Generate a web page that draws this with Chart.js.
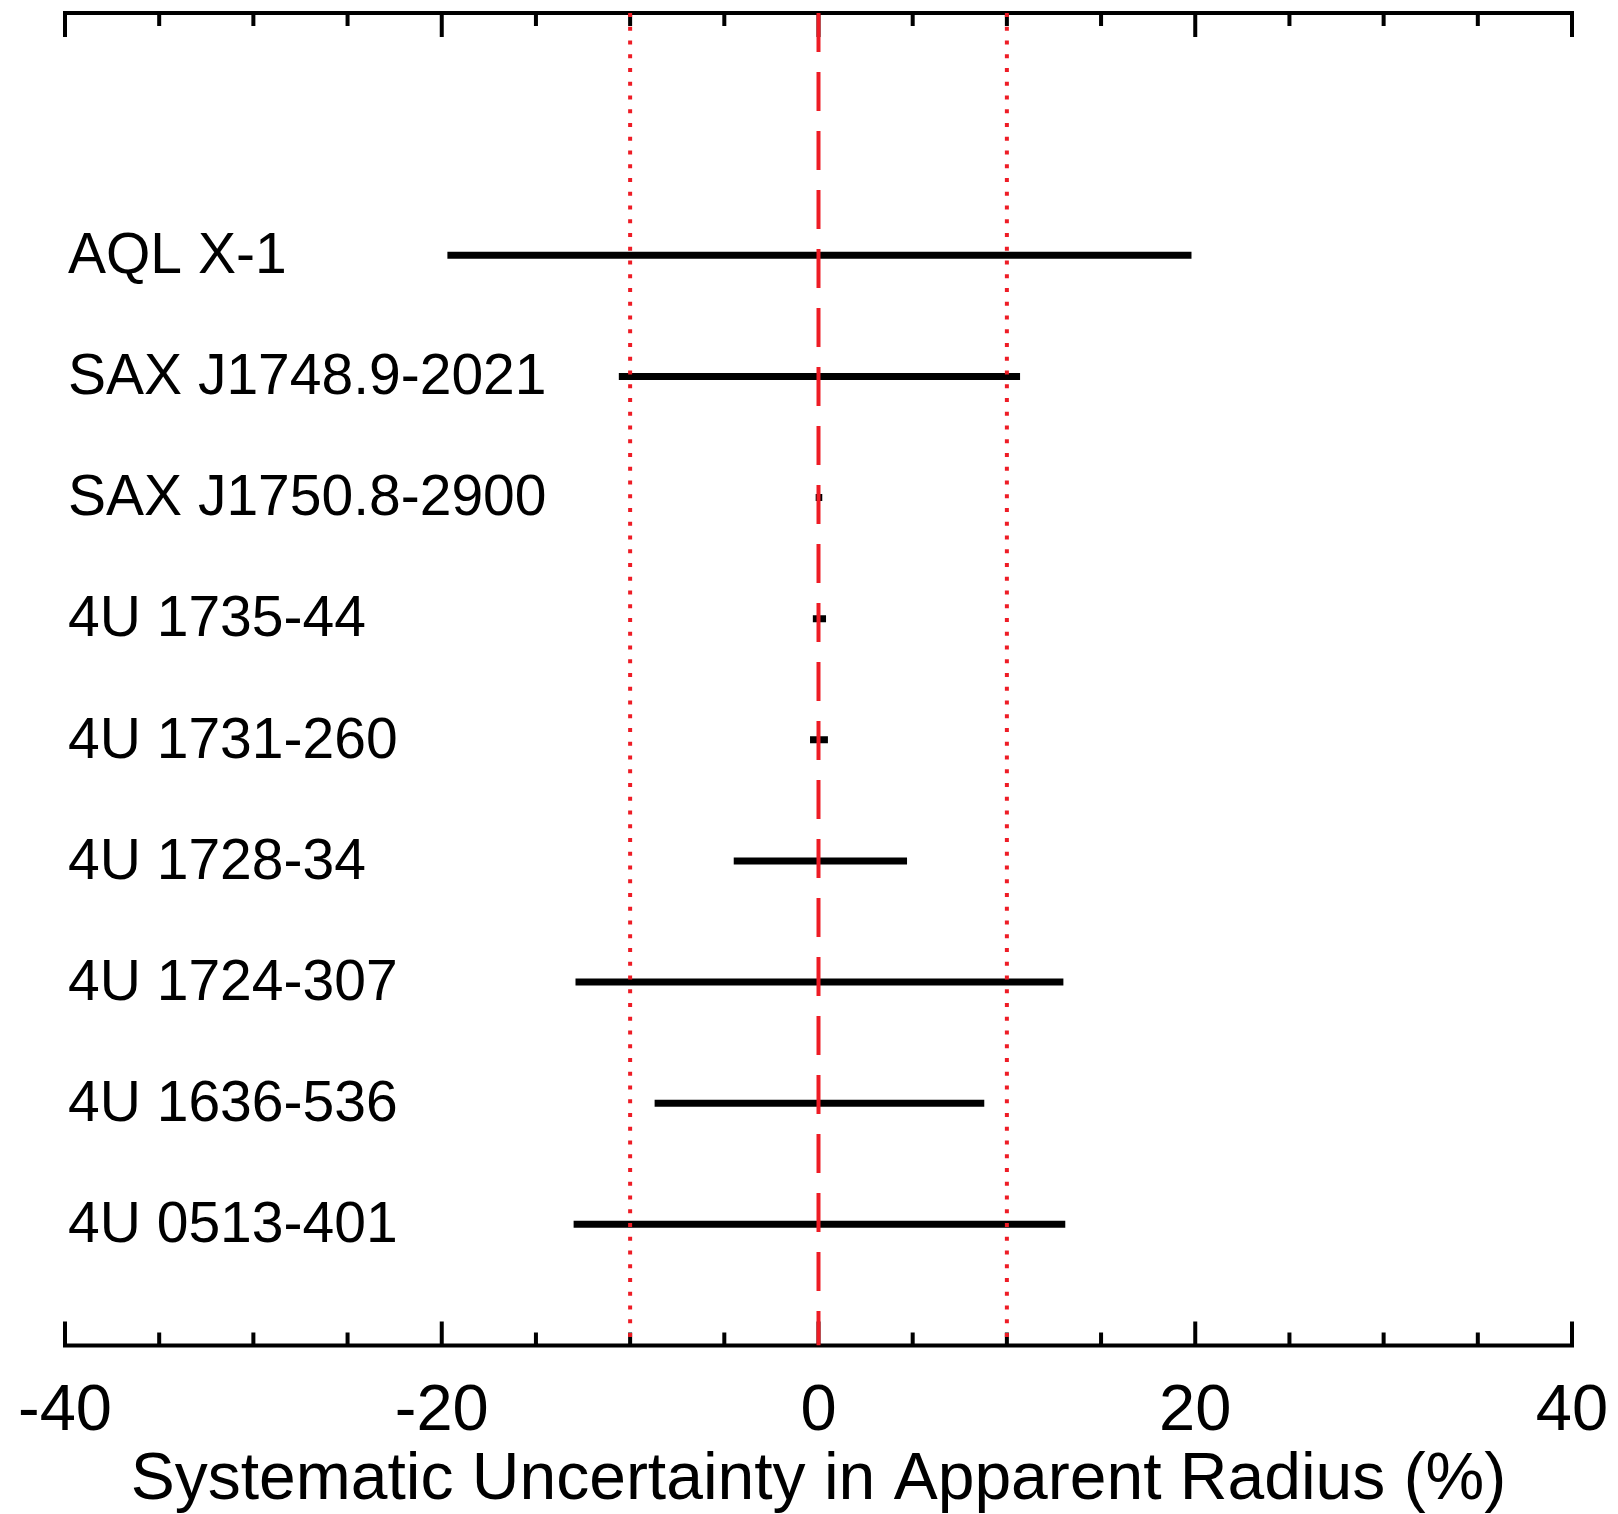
<!DOCTYPE html>
<html>
<head>
<meta charset="utf-8">
<script src="https://cdn.jsdelivr.net/npm/chart.js@4.4.1/dist/chart.umd.min.js"></script>
<style>
  html, body { margin: 0; padding: 0; background: #fff; }
  #wrap { width: 1618px; height: 1514px; }
</style>
</head>
<body>
<div id="wrap"><canvas id="chart" width="1618" height="1514"></canvas></div>
<script>
// sources, listed top to bottom as in the figure
const sources = [
    'AQL X-1', 'SAX J1748.9-2021', 'SAX J1750.8-2900', '4U 1735-44', '4U 1731-260',
    '4U 1728-34', '4U 1724-307', '4U 1636-536', '4U 0513-401'
];
// lower / upper end of each uncertainty range (%)
const lowerEnd = [-19.7, -10.6, -0.15, -0.3, -0.45, -4.5, -12.9, -8.7, -13.0];
const upperEnd = [19.8, 10.7, 0.2, 0.4, 0.5, 4.7, 13.0, 8.8, 13.1];

const xTicks = [-40, -20, 0, 20, 40];
const minorStep = 5;
const refLines = [-10, 0, 10];

const RED = '#ee1c25';
const FONT = '"Liberation Sans", Arial, sans-serif';
const yMax = sources.length + 2;

// box (top & bottom only) with inward ticks, and source names inside the plot
const framePlugin = {
    id: 'framePlugin',
    beforeDatasetsDraw(chart) {
        const { ctx, chartArea: a, scales: { x } } = chart;
        ctx.save();
        ctx.strokeStyle = '#000';
        ctx.lineWidth = 4;
        ctx.lineCap = 'butt';
        ctx.beginPath();
        ctx.moveTo(a.left - 2, a.top);
        ctx.lineTo(a.right + 2, a.top);
        ctx.moveTo(a.left - 2, a.bottom);
        ctx.lineTo(a.right + 2, a.bottom);
        for (let v = x.min; v <= x.max; v += minorStep) {
            const px = x.getPixelForValue(v);
            const len = xTicks.includes(v) ? 24 : 13;
            ctx.moveTo(px, a.top);
            ctx.lineTo(px, a.top + len);
            ctx.moveTo(px, a.bottom);
            ctx.lineTo(px, a.bottom - len);
        }
        ctx.stroke();
        ctx.restore();
    },
    afterDatasetsDraw(chart) {
        const { ctx, chartArea: a, scales: { y } } = chart;
        ctx.save();
        ctx.fillStyle = '#000';
        ctx.font = '57px ' + FONT;
        ctx.textAlign = 'left';
        ctx.textBaseline = 'middle';
        sources.forEach((name, i) => {
            ctx.fillText(name, a.left + 3, y.getPixelForValue(sources.length - i) + 2);
        });
        ctx.restore();
    }
};

const datasets = [];
refLines.forEach(v => {
    datasets.push({
        data: [{ x: v, y: yMax }, { x: v, y: 0 }],
        borderColor: RED,
        borderWidth: 4,
        borderDash: v === 0 ? [39, 20] : [4, 9.75],
        pointRadius: 0,
        order: 0
    });
});
sources.forEach((name, i) => {
    datasets.push({
        label: name,
        data: [{ x: lowerEnd[i], y: sources.length - i }, { x: upperEnd[i], y: sources.length - i }],
        borderColor: '#000',
        borderWidth: 7,
        borderCapStyle: 'butt',
        pointRadius: 0,
        order: 1
    });
});

new Chart(document.getElementById('chart'), {
    type: 'line',
    data: { datasets: datasets },
    options: {
        responsive: false,
        animation: false,
        devicePixelRatio: 1,
        layout: { padding: { left: 65, right: 46, top: 13, bottom: 0 } },
        plugins: {
            legend: { display: false },
            tooltip: { enabled: false }
        },
        scales: {
            x: {
                type: 'linear',
                min: -40,
                max: 40,
                afterBuildTicks: s => { s.ticks = xTicks.map(v => ({ value: v })); },
                // grid hidden; tickLength only spaces the labels below the axis
                grid: { display: false, drawTicks: true, tickLength: 34 },
                border: { display: false },
                ticks: {
                    color: '#000',
                    padding: 0,
                    maxRotation: 0,
                    autoSkip: false,
                    font: { family: FONT, size: 65, lineHeight: 1.008 }
                },
                title: {
                    display: true,
                    text: 'Systematic Uncertainty in Apparent Radius (%)',
                    color: '#000',
                    padding: { top: 3, bottom: 0 },
                    font: { family: FONT, size: 66, lineHeight: 1 }
                }
            },
            y: {
                type: 'linear',
                min: 0,
                max: yMax,
                display: false
            }
        }
    },
    plugins: [framePlugin]
});
</script>
</body>
</html>
